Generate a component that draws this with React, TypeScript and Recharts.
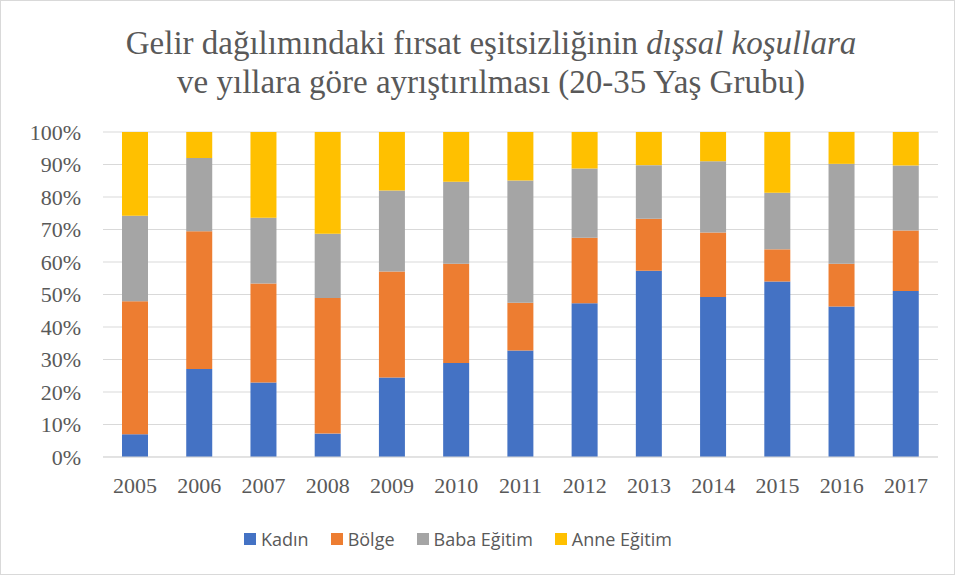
import { BarChart, Bar, XAxis, YAxis, CartesianGrid, Legend } from "recharts";

const years = ["2005", "2006", "2007", "2008", "2009", "2010", "2011", "2012", "2013", "2014", "2015", "2016", "2017"];
const kadin = [7.0, 27.1, 22.9, 7.2, 24.5, 28.9, 32.8, 47.3, 57.3, 49.2, 54.0, 46.3, 51.1];
const bolge = [40.9, 42.4, 30.5, 41.7, 32.6, 30.6, 14.7, 20.2, 16.0, 19.9, 9.9, 13.2, 18.6];
const babaEgitim = [26.3, 22.5, 20.2, 19.8, 24.9, 25.2, 37.6, 21.3, 16.5, 21.9, 17.4, 30.7, 20.0];
const anneEgitim = [25.8, 8.0, 26.4, 31.3, 18.0, 15.3, 14.9, 11.2, 10.2, 9.0, 18.7, 9.8, 10.3];
const yTicks = [0, 10, 20, 30, 40, 50, 60, 70, 80, 90, 100];

const series = [
  { key: "Kadın", color: "#4472C4" },
  { key: "Bölge", color: "#ED7D31" },
  { key: "Baba Eğitim", color: "#A5A5A5" },
  { key: "Anne Eğitim", color: "#FFC000" },
];

const chartData = years.map((y, i) => ({
  year: y,
  "Kadın": kadin[i],
  "Bölge": bolge[i],
  "Baba Eğitim": babaEgitim[i],
  "Anne Eğitim": anneEgitim[i],
}));

const serif = "'Liberation Serif', 'Times New Roman', serif";

function LegendBox() {
  return (
    <div
      style={{
        display: "flex",
        justifyContent: "center",
        fontFamily: "'Open Sans', sans-serif",
        fontSize: 18,
        lineHeight: "24px",
        color: "#595959",
      }}
    >
      {series.map((s) => (
        <div key={s.key} style={{ display: "flex", alignItems: "center", marginRight: 22 }}>
          <span style={{ width: 12, height: 12, background: s.color, marginRight: 5, display: "inline-block" }} />
          <span>{s.key}</span>
        </div>
      ))}
    </div>
  );
}

export default function App() {
  return (
    <div
      style={{
        position: "absolute",
        left: 0,
        top: 0,
        width: 955,
        height: 575,
        background: "#fff",
        boxSizing: "border-box",
        border: "1px solid #d9d9d9",
      }}
    >
      <div
        style={{
          position: "absolute",
          left: 0,
          top: 23,
          width: 980,
          textAlign: "center",
          fontFamily: serif,
          fontSize: 33,
          lineHeight: "39px",
          color: "#595959",
        }}
      >
        Gelir dağılımındaki fırsat eşitsizliğinin <i>dışsal koşullara</i>
        <br />
        ve yıllara göre ayrıştırılması (20-35 Yaş Grubu)
      </div>
      <div style={{ position: "absolute", left: -1, top: -1 }}>
        <BarChart
          width={955}
          height={575}
          data={chartData}
          margin={{ top: 132, right: 17, bottom: 24, left: 0 }}
        >
          <CartesianGrid vertical={false} stroke="#d9d9d9" />
          <XAxis
            dataKey="year"
            height={70}
            tickLine={false}
            axisLine={{ stroke: "#d9d9d9" }}
            tickMargin={14}
            tick={{ fill: "#595959", fontSize: 22, fontFamily: serif }}
          />
          <YAxis
            width={103}
            domain={[0, 100]}
            ticks={yTicks}
            tickFormatter={(v) => `${v}%`}
            axisLine={false}
            tickLine={false}
            tickSize={0}
            tickMargin={22}
            tick={{ fill: "#595959", fontSize: 22, fontFamily: serif }}
          />
          <Legend verticalAlign="bottom" content={() => <LegendBox />} />
          {series.map((s) => (
            <Bar
              key={s.key}
              dataKey={s.key}
              stackId="a"
              fill={s.color}
              barSize={26}
              isAnimationActive={false}
            />
          ))}
        </BarChart>
      </div>
    </div>
  );
}
